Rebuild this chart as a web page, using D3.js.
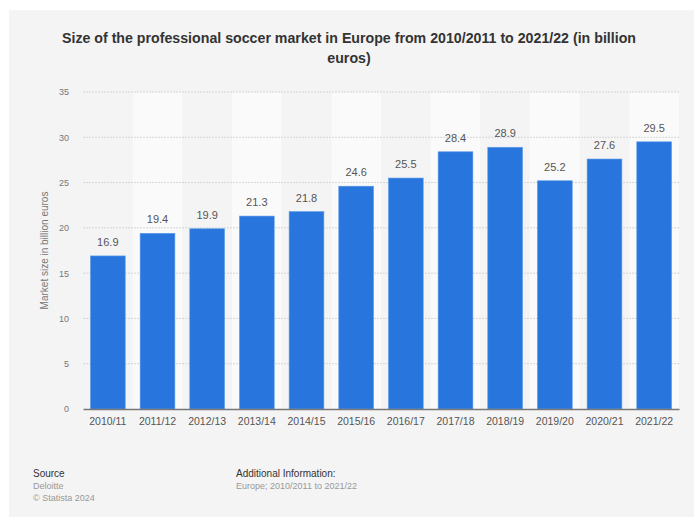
<!DOCTYPE html>
<html>
<head>
<meta charset="utf-8">
<script src="https://cdn.jsdelivr.net/npm/d3@7"></script>
<style>
  body { margin: 0; background: #fff; }
  svg { display: block; font-family: "Liberation Sans", Arial, sans-serif; }
</style>
</head>
<body>
<svg id="chart" width="694" height="517"></svg>
<script>
var seasons = ["2010/11","2011/12","2012/13","2013/14","2014/15","2015/16","2016/17","2017/18","2018/19","2019/20","2020/21","2021/22"];
var marketSize = [16.9, 19.4, 19.9, 21.3, 21.8, 24.6, 25.5, 28.4, 28.9, 25.2, 27.6, 29.5];
var yTicks = [0, 5, 10, 15, 20, 25, 30, 35];

var svg = d3.select("#chart");

// panel background
svg.append("rect")
	.attr("x", 9).attr("y", 10)
	.attr("width", 685).attr("height", 507)
	.attr("fill", "#f4f4f4");

// title
var title = svg.append("text")
	.attr("text-anchor", "middle")
	.attr("font-size", 14.2)
	.attr("font-weight", "bold")
	.attr("fill", "#333");
title.append("tspan").attr("x", 349).attr("y", 43)
	.text("Size of the professional soccer market in Europe from 2010/2011 to 2021/22 (in billion");
title.append("tspan").attr("x", 349).attr("y", 63).text("euros)");

var margin = {left: 83, right: 679, top: 92, bottom: 409};

var x = d3.scaleBand()
	.domain(seasons)
	.range([margin.left, margin.right])
	.paddingInner(0.3)
	.paddingOuter(0.15);

var y = d3.scaleLinear()
	.domain([0, 35])
	.range([margin.bottom, margin.top]);

// alternating column bands
var step = x.step();
svg.selectAll(".band")
	.data(seasons)
	.enter()
	.append("rect")
	.attr("class", "band")
	.attr("x", function(d, i){ return margin.left + i * step; })
	.attr("y", margin.top)
	.attr("width", step)
	.attr("height", margin.bottom - margin.top)
	.attr("fill", function(d, i){ return i % 2 ? "#fafafa" : "#f4f4f4"; });

// grid lines
svg.selectAll(".grid")
	.data(yTicks.slice(1))
	.enter()
	.append("line")
	.attr("x1", margin.left).attr("x2", margin.right)
	.attr("y1", function(d){ return y(d); })
	.attr("y2", function(d){ return y(d); })
	.attr("stroke", "#d6d6d6")
	.attr("stroke-dasharray", "2,1");

// y axis
var yAxis = svg.append("g")
	.attr("transform", "translate(" + (margin.left - 14) + ",0)")
	.call(d3.axisLeft(y).tickValues(yTicks).tickSize(0).tickPadding(0));
yAxis.select(".domain").remove();
yAxis.selectAll("text")
	.attr("font-size", 9)
	.attr("fill", "#777")
	.attr("font-family", "Liberation Sans, Arial, sans-serif");

svg.append("text")
	.attr("transform", "translate(48," + ((margin.top + margin.bottom) / 2) + ") rotate(-90)")
	.attr("text-anchor", "middle")
	.attr("font-size", 10)
	.attr("fill", "#777")
	.text("Market size in billion euros");

// bars
svg.selectAll(".bar")
	.data(marketSize)
	.enter()
	.append("rect")
	.attr("class", "bar")
	.attr("x", function(d, i){ return x(seasons[i]); })
	.attr("y", function(d){ return y(d); })
	.attr("width", x.bandwidth())
	.attr("height", function(d){ return y(0) - y(d); })
	.attr("fill", "#2876dd")
	.attr("stroke", "#5b9be8")
	.attr("stroke-width", 0.6);

// value labels
svg.selectAll(".value")
	.data(marketSize)
	.enter()
	.append("text")
	.attr("class", "value")
	.attr("x", function(d, i){ return x(seasons[i]) + x.bandwidth() / 2; })
	.attr("y", function(d){ return y(d) - 10; })
	.attr("text-anchor", "middle")
	.attr("font-size", 11)
	.attr("fill", "#555")
	.text(function(d){ return d.toFixed(1); });

// x axis
var xAxis = svg.append("g")
	.attr("transform", "translate(0," + margin.bottom + ")")
	.call(d3.axisBottom(x).tickSize(0).tickPadding(9));
xAxis.select(".domain").attr("stroke", "#777").attr("stroke-width", 1.5);
xAxis.selectAll("text")
	.attr("font-size", 10.5)
	.attr("fill", "#555")
	.attr("font-family", "Liberation Sans, Arial, sans-serif");

// footer
svg.append("text").attr("x", 33).attr("y", 477)
	.attr("font-size", 10).attr("fill", "#333").text("Source");
svg.append("text").attr("x", 33).attr("y", 489)
	.attr("font-size", 9).attr("fill", "#999").text("Deloitte");
svg.append("text").attr("x", 33).attr("y", 501)
	.attr("font-size", 9).attr("fill", "#999").text("\u00a9 Statista 2024");
svg.append("text").attr("x", 236).attr("y", 477)
	.attr("font-size", 10).attr("fill", "#333").text("Additional Information:");
svg.append("text").attr("x", 236).attr("y", 489)
	.attr("font-size", 9).attr("fill", "#999").text("Europe; 2010/2011 to 2021/22");
</script>
</body>
</html>
